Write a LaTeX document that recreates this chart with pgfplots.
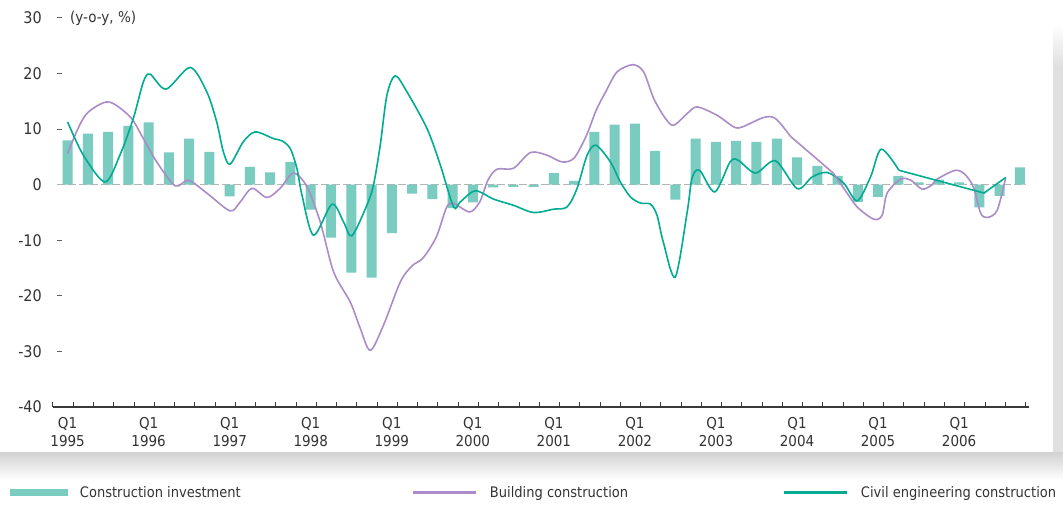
\documentclass[border=0pt]{standalone}
\usepackage{pgfplots}
\pgfplotsset{compat=1.18}
\usepackage{fontspec}
\setmainfont{DejaVu Sans Condensed}

\definecolor{barfill}{HTML}{7ACBC0}
\definecolor{civil}{HTML}{00AC92}
\definecolor{building}{HTML}{AC8CC8}
\definecolor{zerogray}{HTML}{B4B4B4}
\definecolor{axisgray}{HTML}{3A3A3A}
\definecolor{labelgray}{HTML}{333333}

\pgfplotsset{
  barlegend/.style={legend image code/.code={\fill[##1] (0pt,-3.5pt) rectangle (58pt,3.5pt);}},
  linelegend/.style={legend image code/.code={\draw[##1, line width=3pt] (0pt,0pt) -- (63pt,0pt);}},
}

\begin{document}
\begin{tikzpicture}[x=1pt,y=1pt]
\useasboundingbox (0,0) rectangle (1063,506);
% white panel with a soft shadow below and to the right
\shade[top color=black!18, bottom color=white] (0,26) rectangle (1063,54);
\shade[top color=white, bottom color=black!12] (1053,440) rectangle (1063,482);
\fill[black!12] (1053,54) rectangle (1063,440.5);
\fill[white] (0,54) rectangle (1053,506);

\begin{axis}[
  at={(53pt,99pt)}, anchor=south west,
  scale only axis, width=976pt, height=389pt,
  xmin=-0.72, xmax=47.45, ymin=-40, ymax=30,
  clip=false,
  axis x line*=bottom, axis y line*=left,
  y axis line style={draw=none},
  x axis line style={draw=axisgray, line width=1.2pt},
  tick align=inside, major tick length=5pt,
  xtick={-0.72,0.28,...,47.28}, xticklabels={},
  xtick style={draw=axisgray, line width=1pt},
  extra x ticks={0,4,...,44},
  extra x tick labels={Q1\\1995,Q1\\1996,Q1\\1997,Q1\\1998,Q1\\1999,Q1\\2000,Q1\\2001,Q1\\2002,Q1\\2003,Q1\\2004,Q1\\2005,Q1\\2006},
  extra x tick style={major tick length=0pt},
  xticklabel style={align=center, font=\fontsize{15}{18}\selectfont, text=labelgray, yshift=-7pt},
  ytick={-40,-30,...,30},
  yticklabels={-40,-30,-20,-10,0,10,20,30},
  ytick style={draw=axisgray!80, line width=1pt, xshift=4pt},
  yticklabel style={anchor=east, inner sep=0pt, xshift=-11pt, font=\fontsize{16}{18}\selectfont, text=labelgray},
  legend columns=3,
  legend cell align=left,
  legend style={at={(-0.0441,-0.2210)}, anchor=west, draw=none, fill=none,
    inner sep=0pt, outer sep=0pt,
    font=\fontsize{14.5}{17}\selectfont, text=labelgray,
    cells={anchor=west}, nodes={inner sep=0pt},
    /tikz/every odd column/.append style={column sep=12pt}},
]

% zero reference line
\addplot[forget plot, draw=zerogray, line width=1.1pt, dash pattern=on 8pt off 3pt]
  coordinates {(-0.52,0) (47.3,0)};

% Construction investment (y-o-y, %)
\addplot[ybar, bar width=10pt, bar shift=0pt, fill=barfill, draw=none, barlegend]
coordinates {
(0,8.0) (1,9.2) (2,9.5) (3,10.6) (4,11.2) (5,5.8) (6,8.3) (7,5.9)
(8,-2.1) (9,3.2) (10,2.2) (11,4.1) (12,-4.5) (13,-9.5) (14,-15.8) (15,-16.7)
(16,-8.7) (17,-1.6) (18,-2.6) (19,-4.2) (20,-3.2) (21,-0.5) (22,-0.4) (23,-0.4)
(24,2.1) (25,0.7) (26,9.5) (27,10.8) (28,11.0) (29,6.1) (30,-2.7) (31,8.3)
(32,7.7) (33,7.9) (34,7.7) (35,8.3) (36,4.9) (37,3.4) (38,1.6) (39,-3.1)
(40,-2.2) (41,1.6) (42,0.4) (43,0.9) (44,0.4) (45,-4.1) (46,-2.0) (47,3.1)
};
\addlegendentry{\makebox[332pt][l]{Construction investment}}

% Building construction
\addplot[draw=building, line width=1.6pt, smooth, linelegend]
coordinates {
(0,5.6) (0.5,10.0) (1.0,13.0) (2.02,14.9) (3.09,12.2) (3.74,8.3) (4.4,4.1) (5.31,-0.2)
(5.97,0.8) (6.87,-1.5) (8.02,-4.7) (8.52,-3.1) (9.1,-0.65) (9.84,-2.3)
(10.49,-0.65) (11.15,2.1) (11.81,-0.35) (12.47,-6.7) (13.13,-15.7) (13.95,-21.1)
(14.44,-25.8) (14.94,-29.8) (15.6,-25.2) (16.42,-17.5) (17.0,-14.6) (17.54,-13.2)
(18.2,-9.4) (18.69,-4.2) (19.02,-3.3) (19.84,-4.9) (20.34,-3.1) (20.75,0.85)
(21.2,2.8) (22.0,2.95) (22.85,5.8) (23.67,5.3) (24.4,4.1) (25.0,4.8) (25.6,8.8)
(26.1,13.5) (26.6,17.0) (27.12,20.3) (27.9,21.6) (28.43,20.3) (28.93,15.5)
(29.51,11.9) (29.92,10.7) (30.58,12.8) (31.07,14.0) (32.05,12.5) (32.88,10.4)
(33.3,10.4) (34.36,12.1) (34.94,11.9) (35.68,8.7)
};
\addlegendentry{\makebox[293pt][l]{Building construction}}

% Civil engineering construction
\addplot[draw=civil, line width=1.6pt, smooth, linelegend]
coordinates {
(0,11.3) (0.78,5.3) (1.85,0.5) (2.58,5.3) (3.25,12.0) (3.74,18.5) (4.07,19.9)
(4.86,17.2) (6.05,21.1) (6.87,16.7) (7.36,11.3) (7.69,5.9) (8.02,3.7) (8.67,7.7)
(9.26,9.5) (10.16,8.3) (10.58,7.9) (10.99,6.5) (11.32,2.9) (11.57,-1.9)
(12.14,-9.1) (13.05,-3.5) (13.62,-6.7) (14.03,-9.2) (14.77,-3.7) (15.1,0)
(15.43,7.1) (15.76,16.1) (16.17,19.6) (16.75,16.7) (17.74,10.1) (18.4,3.5)
(19.05,-4.0) (19.38,-3.1) (20.12,-1.1) (21.03,-2.6) (22.0,-3.7) (23.0,-5.0)
(23.99,-4.4) (24.65,-4.0) (25.14,-0.7) (25.64,5.3) (26.08,7.1) (26.79,4.1)
(27.28,0.5) (27.78,-2.2) (28.27,-3.3) (28.77,-3.5) (29.09,-5.5) (29.4,-10.3)
(29.99,-16.6) (30.58,-4.9) (30.82,1.2) (31.19,2.6) (31.94,-1.3) (32.7,4.1)
(33.1,4.4) (33.95,2.1) (34.94,4.3) (36.01,-0.7) (36.75,1.4) (37.49,2.2)
(38.31,0.25) (38.97,-2.9) (39.63,1.4) (40.16,6.4) (41.03,2.6)
};
\addlegendentry{Civil engineering construction}

% later stretches of both series
\addplot[forget plot, draw=building, line width=1.6pt]
  coordinates {(35.68,8.7) (37.8,2.05)};
\addplot[forget plot, draw=building, line width=1.6pt, smooth]
coordinates {
(37.8,2.05) (38.31,-0.65) (38.97,-4.0) (39.79,-6.2) (40.2,-5.5) (40.45,-1.5)
(41.11,1.0) (41.6,0.85) (42.18,-0.8) (42.67,0) (42.91,1.0) (43.83,2.6)
(44.33,1.7) (44.73,-0.65) (45.06,-5.1) (45.39,-5.9) (45.88,-4.6) (46.3,1.3)
};
\addplot[forget plot, draw=civil, line width=1.6pt]
  coordinates {(41.03,2.6) (45.23,-1.5) (46.3,1.3)};

\node[anchor=west, inner sep=0pt, font=\fontsize{15}{17}\selectfont, text=labelgray]
  at (rel axis cs:0,1) [xshift=17pt] {(y-o-y, \%)};
\end{axis}
\end{tikzpicture}
\end{document}
